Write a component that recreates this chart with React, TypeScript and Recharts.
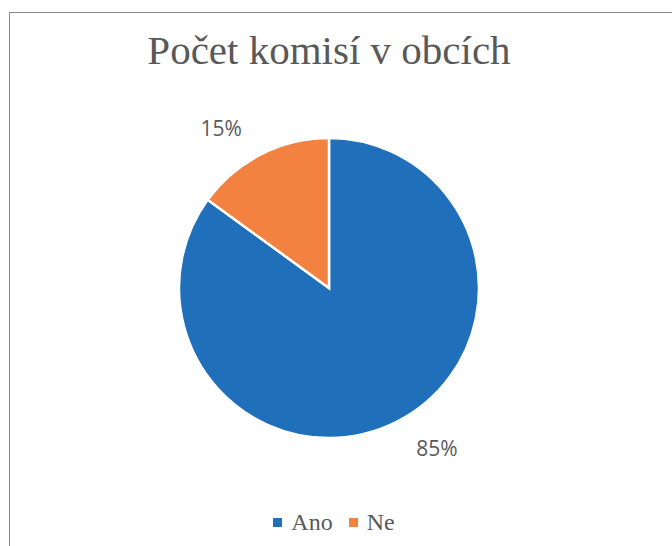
import React from 'react';
import { PieChart, Pie, Cell, Legend } from 'recharts';

const categories = ['Ano', 'Ne'];
const values = [85, 15];
const colors = ['#1F6FBA', '#F3813F'];

const data = categories.map((name, i) => ({ name, value: values[i] }));

const RADIAN = Math.PI / 180;
const serif = '"Liberation Serif", "Times New Roman", Times, serif';

type LabelProps = {
  cx?: number;
  cy?: number;
  midAngle?: number;
  outerRadius?: number;
  percent?: number;
};

const renderLabel = ({ cx = 0, cy = 0, midAngle = 0, outerRadius = 0, percent = 0 }: LabelProps) => {
  const angle = (midAngle + 7) * RADIAN;
  const r = outerRadius + 43;
  const x = cx + r * Math.cos(angle);
  const y = cy - r * Math.sin(angle);
  return (
    <text
      x={x}
      y={y}
      fill="#595959"
      fontSize={21}
      fontFamily="'Open Sans', 'Noto Sans', sans-serif"
      textAnchor="middle"
      dominantBaseline="central"
    >
      {`${Math.round(percent * 100)}%`}
    </text>
  );
};

type LegendEntry = { value?: string; color?: string };

const LegendContent = ({ payload }: { payload?: LegendEntry[] }) => (
  <div style={{ display: 'flex', justifyContent: 'center', alignItems: 'center', gap: 16, fontFamily: serif }}>
    {(payload ?? []).map((entry) => (
      <div key={entry.value} style={{ display: 'flex', alignItems: 'center' }}>
        <span style={{ display: 'inline-block', width: 9, height: 9, background: entry.color, marginRight: 9 }} />
        <span style={{ color: '#595959', fontFamily: serif, fontSize: 24, lineHeight: '28px' }}>{entry.value}</span>
      </div>
    ))}
  </div>
);

const App: React.FC = () => {
  return (
    <div
      style={{
        position: 'fixed',
        left: 0,
        top: 0,
        width: 672,
        height: 546,
        background: '#fff',
        overflow: 'hidden',
        fontFamily: serif
      }}
    >
      <div
        style={{
          position: 'absolute',
          left: 9,
          top: 12,
          width: 700,
          height: 600,
          borderLeft: '1.5px solid #8a8a8a',
          borderTop: '1.5px solid #8a8a8a'
        }}
      />
      <div
        style={{
          position: 'absolute',
          left: 0,
          top: 26,
          width: 658,
          textAlign: 'center',
          fontFamily: serif,
          fontSize: 41,
          color: '#595959'
        }}
      >
        Počet komisí v obcích
      </div>
      <PieChart
        width={672}
        height={546}
        margin={{ top: 0, right: 0, bottom: 0, left: 0 }}
        style={{ position: 'absolute', left: 0, top: 0, fontFamily: serif }}
      >
        <Pie
          data={data}
          dataKey="value"
          nameKey="name"
          cx={329}
          cy={288}
          outerRadius={150}
          startAngle={90}
          endAngle={-270}
          stroke="#ffffff"
          strokeWidth={2.5}
          label={renderLabel}
          labelLine={false}
          isAnimationActive={false}
        >
          {data.map((d, i) => (
            <Cell key={d.name} fill={colors[i]} />
          ))}
        </Pie>
        <Legend
          verticalAlign="bottom"
          align="center"
          content={<LegendContent />}
          wrapperStyle={{ bottom: 10, left: 0, width: 668, fontFamily: serif }}
        />
      </PieChart>
    </div>
  );
};

export default App;
